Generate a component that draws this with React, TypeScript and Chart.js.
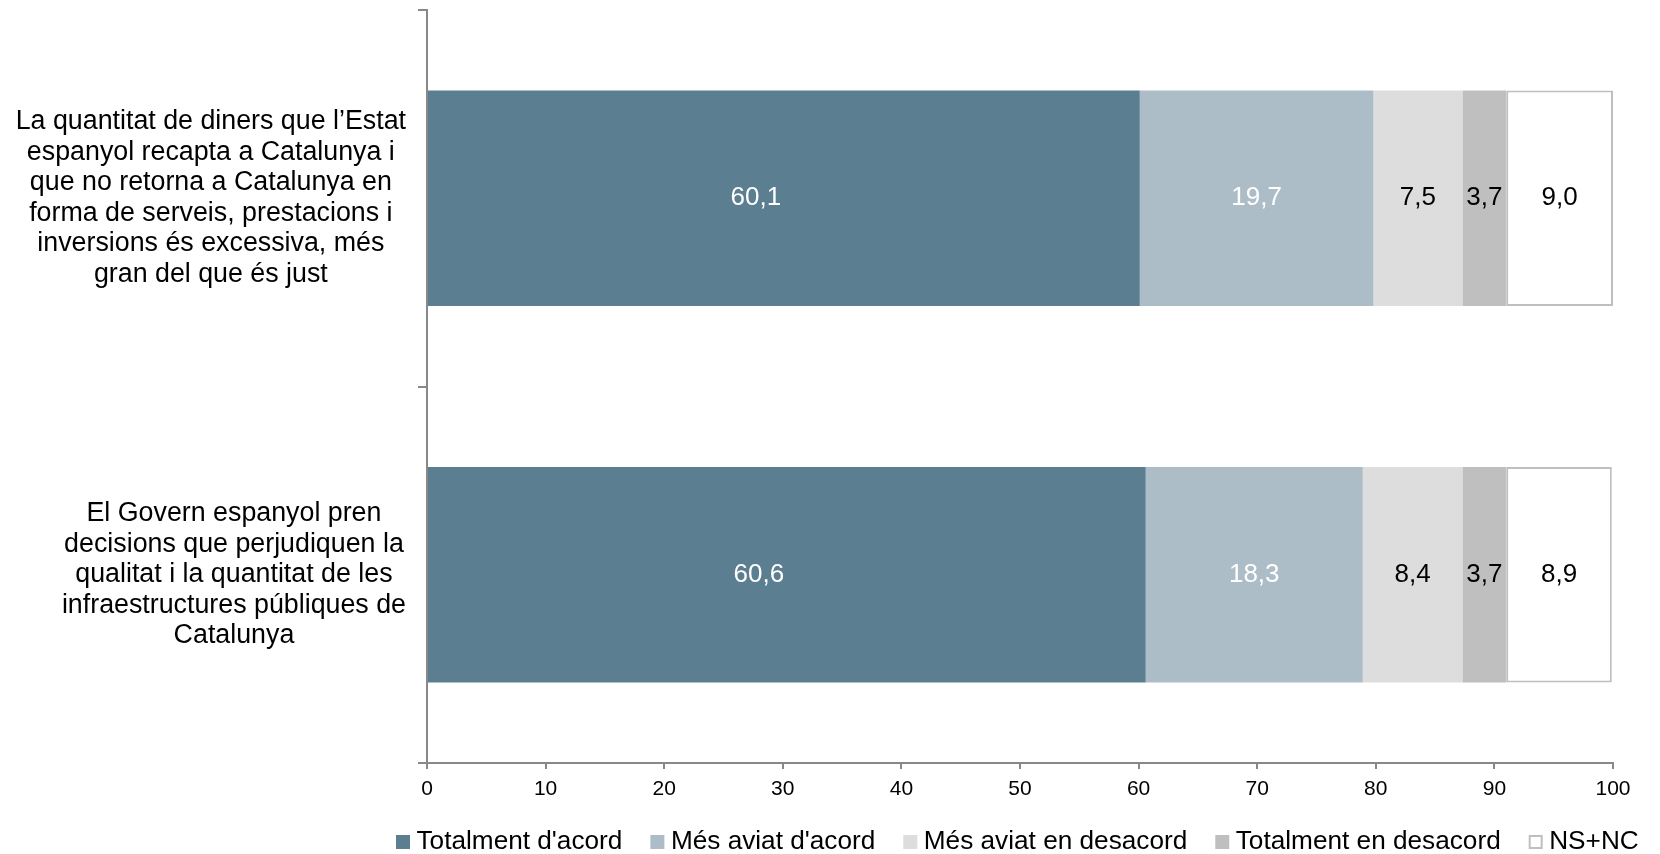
import React, { useEffect, useRef } from "react";
import { Chart, registerables } from "chart.js";

Chart.register(...registerables);

// ---- Data ----
const categoryLines: string[][] = [
  [
    "La quantitat de diners que l’Estat",
    "espanyol recapta a Catalunya i",
    "que no retorna a Catalunya en",
    "forma de serveis, prestacions i",
    "inversions és excessiva, més",
    "gran del que és just",
  ],
  [
    "El Govern espanyol pren",
    "decisions que perjudiquen la",
    "qualitat i la quantitat de les",
    "infraestructures públiques de",
    "Catalunya",
  ],
];
const seriesNames = [
  "Totalment d'acord",
  "Més aviat d'acord",
  "Més aviat en desacord",
  "Totalment en desacord",
  "NS+NC",
];
const totalmentAcord = [60.1, 60.6];
const mesAviatAcord = [19.7, 18.3];
const mesAviatDesacord = [7.5, 8.4];
const totalmentDesacord = [3.7, 3.7];
const nsNc = [9.0, 8.9];
const xTickValues = [0, 10, 20, 30, 40, 50, 60, 70, 80, 90, 100];

// ---- Styles ----
const FONT = '"Liberation Sans", Arial, Helvetica, sans-serif';
const CAT_FONT = 26.8;
const CAT_LINE = 30.5;
const LABEL_FONT = 26;
const TICK_FONT = 21;
const LEGEND_FONT = 26.2;
const AXIS_COLOR = "#888888";
const colors = ["#5B7E90", "#ADBDC7", "#DDDDDD", "#BFBFBF", "#FFFFFF"];
const borderColors = ["#5B7E90", "#ADBDC7", "#DDDDDD", "#BFBFBF", "#BFBFBF"];
const labelColors = ["#FFFFFF", "#FFFFFF", "#000000", "#000000", "#000000"];
const labelShift = [-28, 0, 0, 0, 0];

const fmt = (v: number) => v.toFixed(1).replace(".", ",");

const categoryLabelPlugin = {
  id: "categoryLabels",
  afterDraw(chart: any) {
    const ctx = chart.ctx;
    const yScale = chart.scales.y;
    ctx.save();
    ctx.font = `${CAT_FONT}px ${FONT}`;
    ctx.fillStyle = "#000000";
    ctx.textAlign = "center";
    ctx.textBaseline = "middle";
    categoryLines.forEach((lines, i) => {
      const cy = yScale.getPixelForValue(i);
      const w = Math.max(...lines.map((l) => ctx.measureText(l).width));
      const right = chart.chartArea.left - 21;
      const cx = right - w / 2;
      lines.forEach((l, k) => {
        ctx.fillText(l, cx, cy + (k - (lines.length - 1) / 2) * CAT_LINE);
      });
    });
    ctx.restore();
  },
};

const dataLabelPlugin = {
  id: "dataLabels",
  afterDatasetsDraw(chart: any) {
    const ctx = chart.ctx;
    ctx.save();
    ctx.font = `${LABEL_FONT}px ${FONT}`;
    ctx.textAlign = "center";
    ctx.textBaseline = "middle";
    chart.data.datasets.forEach((ds: any, di: number) => {
      const meta = chart.getDatasetMeta(di);
      ctx.fillStyle = labelColors[di];
      meta.data.forEach((bar: any, i: number) => {
        const p = bar.getProps(["x", "y", "base"], true);
        ctx.fillText(fmt(ds.data[i]), (p.x + p.base) / 2 + labelShift[di], p.y);
      });
    });
    ctx.restore();
  },
};

const legendPlugin = {
  id: "customLegend",
  afterDraw(chart: any) {
    const ctx = chart.ctx;
    ctx.save();
    ctx.font = `${LEGEND_FONT}px ${FONT}`;
    ctx.textAlign = "left";
    ctx.textBaseline = "middle";
    const cy = 842;
    const box = 14;
    const gap = 6.5;
    const itemGap = 28;
    let x = 396;
    chart.data.datasets.forEach((ds: any, di: number) => {
      ctx.fillStyle = colors[di];
      ctx.fillRect(x, cy - box / 2, box, box);
      if (di === 4) {
        ctx.strokeStyle = borderColors[di];
        ctx.lineWidth = 2;
        ctx.strokeRect(x + 1, cy - box / 2 + 1, box - 2, box - 2);
      }
      ctx.fillStyle = "#000000";
      const tx = x + box + gap;
      ctx.fillText(ds.label, tx, cy);
      x = tx + ctx.measureText(ds.label).width + itemGap;
    });
    ctx.restore();
  },
};

export default function App() {
  const canvasRef = useRef<HTMLCanvasElement | null>(null);

  useEffect(() => {
    if (!canvasRef.current) return;
    const seriesData = [totalmentAcord, mesAviatAcord, mesAviatDesacord, totalmentDesacord, nsNc];
    const chart = new Chart(canvasRef.current, {
      type: "bar",
      data: {
        labels: categoryLines.map((c) => c.join(" ")),
        datasets: seriesNames.map((name, i) => ({
          label: name,
          data: seriesData[i],
          backgroundColor: colors[i],
          borderColor: borderColors[i],
          borderWidth: i === 4 ? 2 : 0,
          borderSkipped: false,
          categoryPercentage: 0.572,
          barPercentage: 1,
        })),
      },
      options: {
        indexAxis: "y",
        animation: false,
        responsive: false,
        layout: { padding: { top: 10, left: 0, right: 47, bottom: 0 } },
        plugins: {
          legend: { display: false },
          tooltip: { enabled: false },
        },
        scales: {
          x: {
            stacked: true,
            min: 0,
            max: 100,
            afterBuildTicks: (s: any) => {
              s.ticks = xTickValues.map((v) => ({ value: v }));
            },
            afterFit: (s: any) => {
              s.height = 91;
            },
            grid: {
              drawOnChartArea: false,
              drawTicks: true,
              tickLength: 6,
              color: AXIS_COLOR,
              lineWidth: 2,
            },
            border: { display: true, color: AXIS_COLOR, width: 2 },
            ticks: {
              color: "#000000",
              padding: 8,
              maxRotation: 0,
              font: { size: TICK_FONT, family: FONT },
            },
          },
          y: {
            stacked: true,
            afterFit: (s: any) => {
              s.width = 427;
            },
            grid: {
              drawOnChartArea: false,
              drawTicks: true,
              tickLength: 9,
              color: AXIS_COLOR,
              lineWidth: 2,
              offset: true,
            },
            border: { display: true, color: AXIS_COLOR, width: 2 },
            ticks: { display: false },
          },
        },
      } as any,
      plugins: [categoryLabelPlugin, dataLabelPlugin, legendPlugin],
    });
    return () => chart.destroy();
  }, []);

  return (
    <div style={{ position: "fixed", left: 0, top: 0, width: 1660, height: 854, background: "#ffffff" }}>
      <canvas ref={canvasRef} width={1660} height={854} />
    </div>
  );
}
